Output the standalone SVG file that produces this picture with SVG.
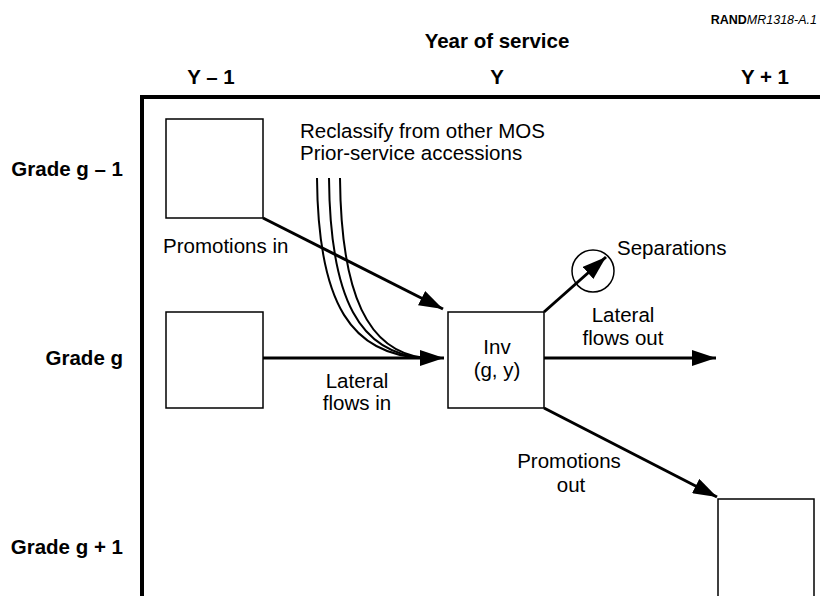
<svg xmlns="http://www.w3.org/2000/svg" width="820" height="596" viewBox="0 0 820 596">
  <style>
    .hdr { font-family: "Liberation Sans", Arial, Helvetica, sans-serif; font-weight: bold; font-size: 20.5px; fill: #000; }
    .lbl { font-family: "Liberation Sans", Arial, Helvetica, sans-serif; font-size: 20.5px; fill: #000; }
    .box { fill: #fff; stroke: #000; stroke-width: 1.5; }
    .frame { fill: none; stroke: #000; stroke-width: 4; }
    .flow { fill: none; stroke: #000; stroke-width: 3; }
    .feed { fill: none; stroke: #000; stroke-width: 2; }
  </style>
  <defs>
    <marker id="head" viewBox="0 0 24 16" refX="24" refY="8" markerWidth="24" markerHeight="16" markerUnits="userSpaceOnUse" orient="auto">
      <path d="M0,0 L24,8 L0,16 Z" fill="#000"/>
    </marker>
  </defs>
  <rect width="820" height="596" fill="#fff"/>

  <!-- source tag -->
  <text x="817" y="24" text-anchor="end" font-family="Liberation Sans, Arial, sans-serif" font-size="12.5"><tspan font-weight="bold">RAND</tspan><tspan font-style="italic">MR1318-A.1</tspan></text>

  <!-- column headings -->
  <g id="axis-columns">
    <text class="hdr" x="497" y="48" text-anchor="middle">Year of service</text>
    <text class="hdr" x="211" y="84" text-anchor="middle">Y – 1</text>
    <text class="hdr" x="497" y="84" text-anchor="middle">Y</text>
    <text class="hdr" x="765" y="84" text-anchor="middle">Y + 1</text>
  </g>

  <!-- row headings -->
  <g id="axis-rows">
    <text class="hdr" x="123" y="176" text-anchor="end">Grade g – 1</text>
    <text class="hdr" x="123" y="365" text-anchor="end">Grade g</text>
    <text class="hdr" x="123" y="554" text-anchor="end">Grade g + 1</text>
  </g>

  <!-- frame -->
  <path class="frame" d="M142,598 L142,97 L822,97"/>

  <!-- nodes -->
  <g id="node-prev-grade-below">
    <rect class="box" x="166" y="119" width="97" height="99"/>
  </g>
  <g id="node-prev-same-grade">
    <rect class="box" x="166" y="312" width="97" height="96"/>
  </g>
  <g id="node-inv">
    <rect class="box" x="448" y="312" width="96" height="96"/>
    <text class="lbl" x="497" y="354" text-anchor="middle">Inv</text>
    <text class="lbl" x="497" y="377" text-anchor="middle">(g, y)</text>
  </g>
  <g id="node-next-grade-above">
    <rect class="box" x="718" y="499" width="96" height="100"/>
  </g>
  <g id="node-separations">
    <circle cx="593" cy="271" r="21" fill="none" stroke="#000" stroke-width="1.5"/>
    <text class="lbl" x="617" y="255">Separations</text>
  </g>

  <!-- connectors -->
  <g id="connectors">
    <line class="flow" x1="263" y1="218" x2="443" y2="309" marker-end="url(#head)"/>
    <line class="flow" x1="263" y1="358" x2="444" y2="358" marker-end="url(#head)"/>
    <path class="feed" d="M317,178 C318,305 352,356 425,358"/>
    <path class="feed" d="M329,178 C330,300 360,354 425,358"/>
    <path class="feed" d="M340,178 C341,295 368,352 425,358"/>
    <line class="flow" x1="544" y1="312" x2="606" y2="257" marker-end="url(#head)"/>
    <line class="flow" x1="544" y1="358" x2="716" y2="358" marker-end="url(#head)"/>
    <line class="flow" x1="544" y1="408" x2="717" y2="497" marker-end="url(#head)"/>
  </g>

  <!-- flow labels -->
  <g id="labels">
    <text class="lbl" x="300" y="138">Reclassify from other MOS</text>
    <text class="lbl" x="300" y="160">Prior-service accessions</text>
    <text class="lbl" x="163" y="253">Promotions in</text>
    <text class="lbl" x="357" y="388" text-anchor="middle">Lateral</text>
    <text class="lbl" x="357" y="410" text-anchor="middle">flows in</text>
    <text class="lbl" x="623" y="322" text-anchor="middle">Lateral</text>
    <text class="lbl" x="623" y="345" text-anchor="middle">flows out</text>
    <text class="lbl" x="569" y="468" text-anchor="middle">Promotions</text>
    <text class="lbl" x="571" y="492" text-anchor="middle">out</text>
  </g>
</svg>
